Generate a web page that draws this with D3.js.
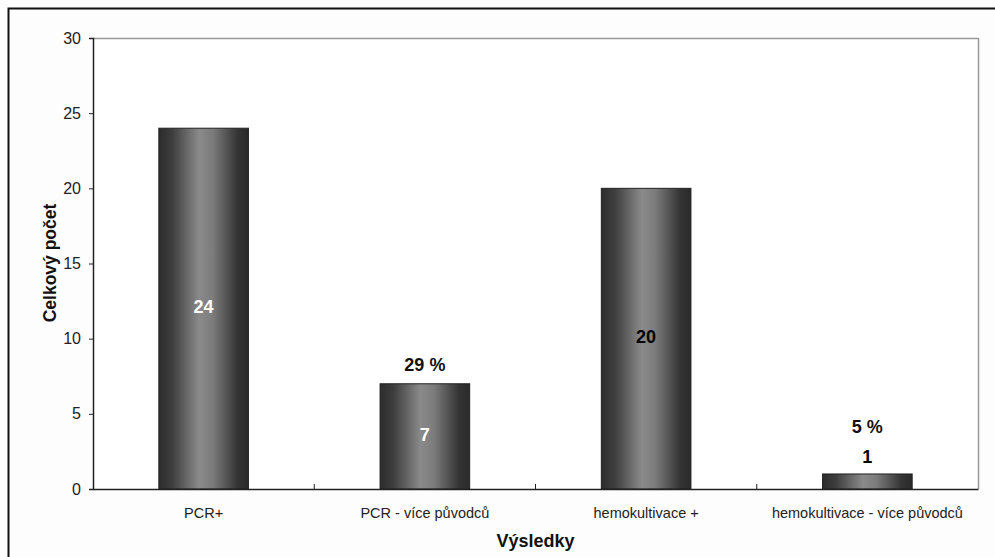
<!DOCTYPE html>
<html><head><meta charset="utf-8">
<script src="https://cdn.jsdelivr.net/npm/d3@7"></script>
<style>body{margin:0;background:#fdfdfd;}svg{display:block;font-family:"Liberation Sans",Arial,sans-serif;}</style>
</head><body>
<script>
const categories = ["PCR+", "PCR - více původců", "hemokultivace +", "hemokultivace - více původců"];
const values = [24, 7, 20, 1];
const percentLabels = ["", "29 %", "", "5 %"];
const valueLabelColors = ["#ffffff", "#ffffff", "#000000", "#000000"];
const yTicks = [0, 5, 10, 15, 20, 25, 30];

const W = 995, H = 557;
const m = {left: 93, top: 38, right: 978, bottom: 489};
const FF = "Liberation Sans, Arial, sans-serif";
const svg = d3.select("body").append("svg").attr("width", W).attr("height", H);

svg.append("rect").attr("x", 0).attr("y", 0).attr("width", W).attr("height", H).attr("fill", "#fdfdfd");
svg.append("rect").attr("x", 8.5).attr("y", 8.5).attr("width", 1000).attr("height", 560)
  .attr("fill", "none").attr("stroke", "#111").attr("stroke-width", 2);

const x = d3.scaleBand().domain(categories).range([m.left, m.right]).paddingInner(0).paddingOuter(0);
const y = d3.scaleLinear().domain([0, 30]).range([m.bottom, m.top]);

// plot area
svg.append("rect").attr("x", m.left).attr("y", m.top).attr("width", m.right - m.left).attr("height", m.bottom - m.top)
  .attr("fill", "#ffffff");
svg.append("path").attr("d", `M${m.left},${m.top + 0.5}H${m.right + 0.5}V${m.bottom}`)
  .attr("fill", "none").attr("stroke", "#9a9a9a").attr("stroke-width", 1.5);

const defs = svg.append("defs");
const g = defs.append("linearGradient").attr("id", "barGrad").attr("x1", "0%").attr("x2", "100%").attr("y1", "0%").attr("y2", "0%");
g.append("stop").attr("offset", "0%").attr("stop-color", "#2c2c2c");
g.append("stop").attr("offset", "15%").attr("stop-color", "#3e3e3e");
g.append("stop").attr("offset", "45%").attr("stop-color", "#8a8a8a");
g.append("stop").attr("offset", "60%").attr("stop-color", "#7c7c7c");
g.append("stop").attr("offset", "88%").attr("stop-color", "#343434");
g.append("stop").attr("offset", "100%").attr("stop-color", "#2a2a2a");

const bw = x.bandwidth() * 0.405;
svg.selectAll("rect.bar").data(values).join("rect").attr("class", "bar")
  .attr("x", (d, i) => x(categories[i]) + x.bandwidth() / 2 - bw / 2)
  .attr("y", d => y(d))
  .attr("width", bw)
  .attr("height", d => y(0) - y(d))
  .attr("fill", "url(#barGrad)")
  .attr("stroke", "#222").attr("stroke-width", 1);

// y axis
const yAxis = svg.append("g").attr("transform", `translate(${m.left},0)`)
  .call(d3.axisLeft(y).tickValues(yTicks).tickSize(4).tickPadding(8));
yAxis.select(".domain").attr("stroke", "#222").attr("stroke-width", 1.5);
yAxis.selectAll(".tick line").attr("stroke", "#222");
yAxis.selectAll("text").attr("font-size", 16).attr("fill", "#222").attr("font-family", FF);

// x axis
const xAxis = svg.append("g").attr("transform", `translate(0,${m.bottom})`)
  .call(d3.axisBottom(x).tickSize(0).tickPadding(19));
xAxis.select(".domain").attr("stroke", "#222").attr("stroke-width", 1.5);
xAxis.selectAll("text").attr("font-size", 14.5).attr("fill", "#222").attr("font-family", FF);
// category boundary ticks (pointing inward)
svg.selectAll("line.ctick").data(d3.range(1, categories.length)).join("line").attr("class", "ctick")
  .attr("x1", i => m.left + x.step() * i).attr("x2", i => m.left + x.step() * i)
  .attr("y1", m.bottom).attr("y2", m.bottom - 5).attr("stroke", "#222");

// value labels
values.forEach((v, i) => {
  const cx = x(categories[i]) + x.bandwidth() / 2;
  const inside = v >= 5;
  const vy = inside ? (y(v) + y(0)) / 2 + 4.5 : y(v) - 10.5;
  svg.append("text").attr("x", cx).attr("y", vy).attr("text-anchor", "middle")
    .attr("font-size", 18).attr("font-weight", "bold").attr("fill", valueLabelColors[i]).text(v);
  if (percentLabels[i]) {
    const py = inside ? y(v) - 13 : y(v) - 41;
    svg.append("text").attr("x", cx).attr("y", py).attr("text-anchor", "middle")
      .attr("font-size", 18).attr("font-weight", "bold").attr("fill", "#111").text(percentLabels[i]);
  }
});

// axis titles
svg.append("text").attr("x", (m.left + m.right) / 2).attr("y", 547).attr("text-anchor", "middle")
  .attr("font-size", 18).attr("font-weight", "bold").attr("fill", "#111").text("Výsledky");
svg.append("text").attr("transform", `translate(56,263) rotate(-90)`).attr("text-anchor", "middle")
  .attr("font-size", 17.5).attr("font-weight", "bold").attr("fill", "#111").text("Celkový počet");
</script>
</body></html>
